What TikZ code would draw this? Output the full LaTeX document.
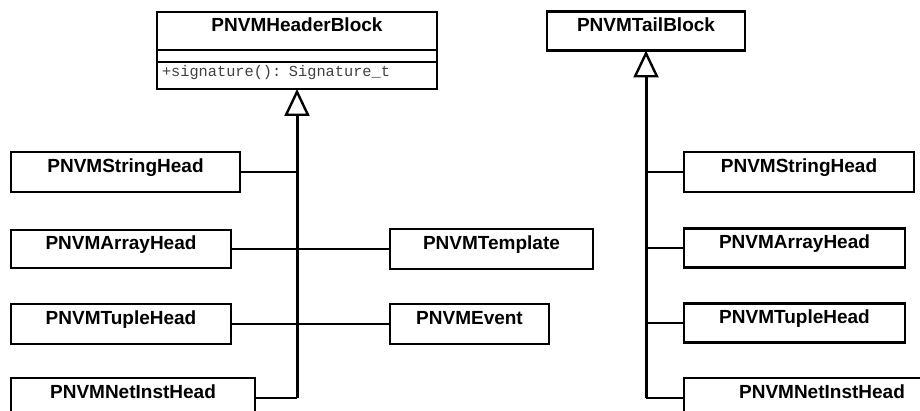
\documentclass[tikz,border=0pt]{standalone}
\usepackage{fontspec}
\setmainfont{Liberation Sans}
\newfontfamily\codefont{Liberation Mono}
\usetikzlibrary{arrows.meta,positioning}

\begin{document}
\begin{tikzpicture}[x=1pt,y=1pt,
  cls/.style={draw,line width=2.4pt,anchor=west,minimum height=40pt,inner sep=0pt,outer sep=0pt,
    font=\fontsize{19}{22}\selectfont\bfseries,text height=14pt,text depth=13pt},
  part/.style={draw,line width=2.4pt,minimum width=280pt,inner sep=0pt,outer sep=0pt},
  link/.style={line width=2pt},
  trunk/.style={line width=3pt,-{Triangle[open,length=27pt,width=25pt,line width=2.4pt]}}]
\useasboundingbox (0,0) rectangle (920,411);
\clip (0,0) rectangle (920,411);
% header block with its three compartments
\node[part,minimum height=38pt,font=\fontsize{19}{22}\selectfont\bfseries,text height=14pt,text depth=12pt] (hdr) at (297,380) {PNVMHeaderBlock};
\node[part,minimum height=12pt,below=0pt of hdr] (hdrattr) {};
\node[part,minimum height=27pt,below=0pt of hdrattr,text width=270pt,align=left,inner xsep=5pt,
  font=\fontsize{15.3}{17}\codefont,text=black!75,text height=10pt,text depth=7pt] (hdrops) {+signature(): Signature\_t};
% tail block
\node[cls,minimum width=198pt,minimum height=39pt] (tail) at (547,380) {PNVMTailBlock};
% left column
\node[cls,minimum width=229pt] (lstr) at (11,239) {PNVMStringHead};
\node[cls,minimum width=220pt,minimum height=38pt] (larr) at (11,162) {PNVMArrayHead};
\node[cls,minimum width=220pt] (ltup) at (11,87) {PNVMTupleHead};
\node[cls,minimum width=244pt] (lnet) at (11,13) {PNVMNetInstHead};
\node[cls,minimum width=203pt] (ltmp) at (390,162) {PNVMTemplate};
\node[cls,minimum width=159pt] (levt) at (390,87) {PNVMEvent};
% right column
\node[cls,minimum width=230pt] (rstr) at (684,239) {PNVMStringHead};
\node[cls,minimum width=221pt,minimum height=39pt] (rarr) at (684,163) {PNVMArrayHead};
\node[cls,minimum width=221pt,minimum height=39pt] (rtup) at (684,88) {PNVMTupleHead};
\node[cls,minimum width=276pt] (rnet) at (684,13) {PNVMNetInstHead};
% generalisation trees
\draw[trunk] (lnet.east -| hdrops.south) -- (hdrops.south);
\foreach \n in {lstr,larr,ltup,lnet}
  \draw[link] (\n.east) -- (\n.east -| hdrops.south);
\foreach \n in {ltmp,levt}
  \draw[link] (\n.west) -- (\n.west -| hdrops.south);
\draw[trunk] (rnet.west -| tail.south) -- (tail.south);
\foreach \n in {rstr,rarr,rtup,rnet}
  \draw[link] (\n.west) -- (\n.west -| tail.south);
\end{tikzpicture}
\end{document}
